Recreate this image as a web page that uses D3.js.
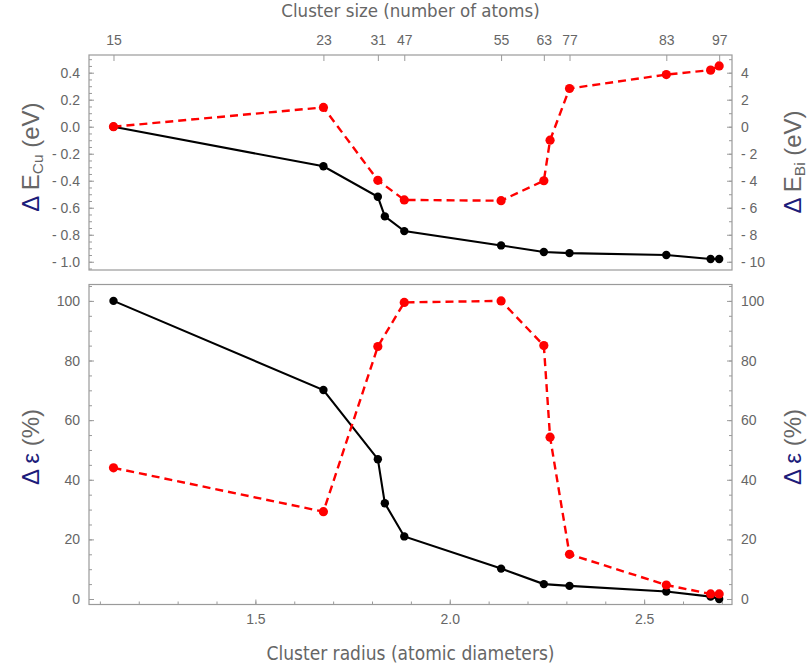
<!DOCTYPE html>
<html>
<head>
<meta charset="utf-8">
<script src="https://cdn.jsdelivr.net/npm/d3@7"></script>
<style>
  body { margin: 0; background: #fff; }
  svg { display: block; }
  text { font-family: "Liberation Sans", Arial, sans-serif; }
</style>
</head>
<body>
<svg id="chart" width="808" height="672"></svg>
<script>
// ---------- data ----------
const radiusBlack = [1.135, 1.675, 1.815, 1.833, 1.883, 2.132, 2.242, 2.308, 2.557, 2.671, 2.693];
const radiusRed   = [1.135, 1.675, 1.815, 1.883, 2.132, 2.242, 2.258, 2.308, 2.557, 2.671, 2.693];

const deltaECu = [0, -0.293, -0.519, -0.664, -0.773, -0.879, -0.928, -0.936, -0.950, -0.980, -0.980];
const deltaEBi = [0, 1.43, -3.97, -5.42, -5.48, -4.0, -1.0, 2.83, 3.86, 4.19, 4.50];

const strainBlack = [100, 70.1, 46.9, 32.1, 21.0, 10.2, 5.0, 4.4, 2.5, 0.8, 0];
const strainRed   = [44.0, 29.3, 84.7, 99.5, 100, 85.0, 54.3, 15.0, 4.7, 1.7, 1.7];

const sizeLabels = [15, 23, 31, 47, 55, 63, 77, 83, 97];
const sizeRadius = [1.135, 1.675, 1.815, 1.883, 2.132, 2.242, 2.308, 2.557, 2.693];

const xMajor = [1.5, 2.0, 2.5];
const leftTopMajor = [-1.0, -0.8, -0.6, -0.4, -0.2, 0.0, 0.2, 0.4];
const rightTopMajor = [-10, -8, -6, -4, -2, 0, 2, 4];
const strainMajor = [0, 20, 40, 60, 80, 100];

// ---------- layout ----------
const svg = d3.select("#chart");
const L = 89, R = 732;
const top1 = 55, bot1 = 270, top2 = 284.5, bot2 = 604.5;
const gray = "#9a9a9a", labelGray = "#666666", navy = "#1c1c7a";

const x = d3.scaleLinear().domain([1.072, 2.726]).range([L, R]);
const yL = d3.scaleLinear().domain([-1.061, 0.531]).range([bot1, top1]);
const yR = d3.scaleLinear().domain([-10.61, 5.31]).range([bot1, top1]);
const yB = d3.scaleLinear().domain([-1.84, 105.5]).range([bot2, top2]);

function fmtSigned(d, digits) {
  const s = Math.abs(d).toFixed(digits);
  return d < -1e-9 ? "- " + s : s;
}

function range(a, b, step) {
  const out = [];
  const n = Math.round((b - a) / step);
  for (let i = 0; i <= n; i++) out.push(+(a + i * step).toFixed(6));
  return out;
}

// frames
[[top1, bot1], [top2, bot2]].forEach(([t, b]) => {
  svg.append("rect").attr("x", L).attr("y", t).attr("width", R - L).attr("height", b - t)
    .attr("fill", "none").attr("stroke", gray).attr("stroke-width", 1.2);
});

function vAxis(scale, side, major, minor, fmt, t, b) {
  const isLeft = side === "left";
  const xpos = isLeft ? L : R;
  const g = svg.append("g").attr("transform", `translate(${xpos},0)`);
  const ax = (isLeft ? d3.axisLeft(scale) : d3.axisRight(scale))
    .tickValues(major).tickSize(-5).tickPadding(9).tickFormat(fmt);
  g.call(ax);
  g.select(".domain").remove();
  g.selectAll(".tick line").attr("stroke", gray);
  g.selectAll(".tick text").attr("fill", labelGray).style("font-size", "14px")
    .style("font-family", "'Liberation Sans', Arial, sans-serif");
  const gm = svg.append("g").attr("transform", `translate(${xpos},0)`);
  const axm = (isLeft ? d3.axisLeft(scale) : d3.axisRight(scale))
    .tickValues(minor.filter(v => scale(v) >= t && scale(v) <= b)).tickSize(-3).tickFormat("");
  gm.call(axm);
  gm.select(".domain").remove();
  gm.selectAll(".tick line").attr("stroke", gray);
}

vAxis(yL, "left", leftTopMajor, range(-1.05, 0.5, 0.05), d => fmtSigned(d, 1), top1, bot1);
vAxis(yR, "right", rightTopMajor, range(-10, 5, 1), d => fmtSigned(d, 0), top1, bot1);
vAxis(yB, "left", strainMajor, range(0, 105, 5), d3.format("d"), top2, bot2);
vAxis(yB, "right", strainMajor, range(0, 105, 5), d3.format("d"), top2, bot2);

// bottom x axis
{
  const g = svg.append("g").attr("transform", `translate(0,${bot2})`);
  g.call(d3.axisBottom(x).tickValues(xMajor).tickSize(-5).tickPadding(10).tickFormat(d3.format(".1f")));
  g.select(".domain").remove();
  g.selectAll(".tick line").attr("stroke", gray);
  g.selectAll(".tick text").attr("fill", labelGray).style("font-size", "14px");
  const gm = svg.append("g").attr("transform", `translate(0,${bot2})`);
  gm.call(d3.axisBottom(x).tickValues(range(1.1, 2.7, 0.1)).tickSize(-3).tickFormat(""));
  gm.select(".domain").remove();
  gm.selectAll(".tick line").attr("stroke", gray);
}

// top x axis (cluster size)
{
  const g = svg.append("g").attr("transform", `translate(0,${top1})`);
  g.call(d3.axisTop(x).tickValues(sizeRadius).tickSize(-6).tickPadding(10)
    .tickFormat((d, i) => sizeLabels[i]));
  g.select(".domain").remove();
  g.selectAll(".tick line").attr("stroke", gray);
  g.selectAll(".tick text").attr("fill", labelGray).style("font-size", "14px");
}

// axis titles
svg.append("text").attr("x", (L + R) / 2).attr("y", 16.5).attr("text-anchor", "middle")
  .attr("fill", labelGray).style("font-size", "18.5px")
  .style("font-family", "'Liberation Sans Narrow', 'DejaVu Sans Condensed', Arial, sans-serif")
  .text("Cluster size (number of atoms)");
svg.append("text").attr("x", (L + R) / 2).attr("y", 660).attr("text-anchor", "middle")
  .attr("fill", labelGray).style("font-size", "19px")
  .style("font-family", "'Liberation Sans Narrow', 'DejaVu Sans Condensed', Arial, sans-serif")
  .text("Cluster radius (atomic diameters)");

function yTitle(cx, cy, parts) {
  const t = svg.append("text")
    .attr("transform", `translate(${cx},${cy}) rotate(-90)`)
    .attr("text-anchor", "middle")
    .style("font-size", "24px");
  parts.forEach(p => {
    const ts = t.append("tspan").text(p.t).attr("fill", p.c || labelGray);
    if (p.sub) ts.style("font-size", "15.5px").attr("baseline-shift", "-25%");
  });
}
yTitle(39, 157, [{t: "Δ", c: navy}, {t: " E"}, {t: "Cu", sub: true}, {t: " (eV)"}]);
yTitle(801, 162, [{t: "Δ", c: navy}, {t: " E"}, {t: "Bi", sub: true}, {t: " (eV)"}]);
yTitle(39, 447, [{t: "Δ", c: navy}, {t: " "}, {t: "ε", c: navy}, {t: " (%)"}]);
yTitle(801, 447, [{t: "Δ", c: navy}, {t: " "}, {t: "ε", c: navy}, {t: " (%)"}]);

// series
function series(xs, ys, yScale, color, dashed, r) {
  const pts = xs.map((v, i) => [x(v), yScale(ys[i])]);
  svg.append("path").attr("d", d3.line()(pts)).attr("fill", "none")
    .attr("stroke", color).attr("stroke-width", dashed ? 2.4 : 2.1)
    .attr("stroke-dasharray", dashed ? "8,5" : null);
  svg.append("g").selectAll("circle").data(pts).join("circle")
    .attr("cx", d => d[0]).attr("cy", d => d[1]).attr("r", r).attr("fill", color);
}
series(radiusBlack, deltaECu, yL, "#000", false, 4.2);
series(radiusRed, deltaEBi, yR, "#ff0000", true, 4.6);
series(radiusBlack, strainBlack, yB, "#000", false, 4.2);
series(radiusRed, strainRed, yB, "#ff0000", true, 4.6);
</script>
</body>
</html>
